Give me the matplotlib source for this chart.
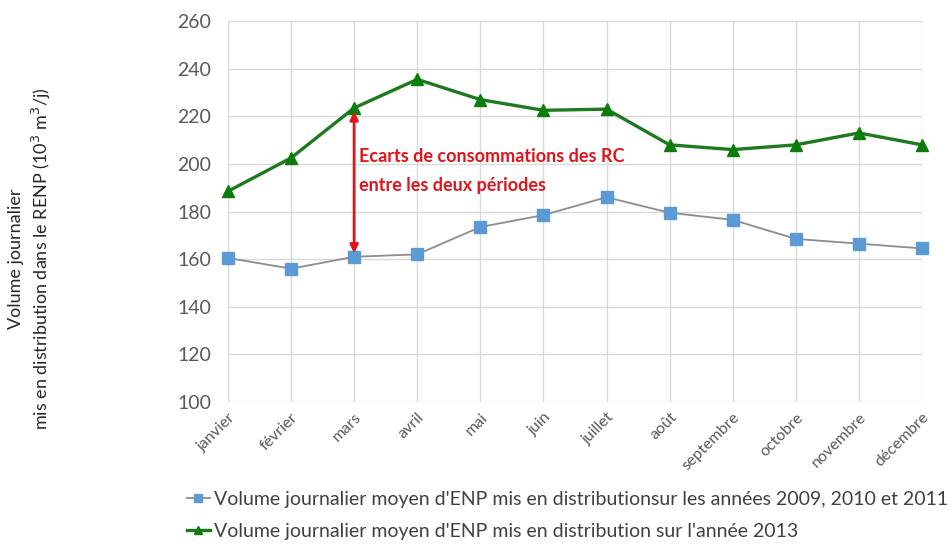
import matplotlib
matplotlib.use("Agg")
import matplotlib.pyplot as plt

mois = ['janvier', 'février', 'mars', 'avril', 'mai', 'juin', 'juillet',
        'août', 'septembre', 'octobre', 'novembre', 'décembre']
vol_2009_2011 = [160.5, 156, 161, 162, 173.5, 178.5, 186, 179.5, 176.5, 168.5, 166.5, 164.5]
vol_2013 = [188.5, 202.5, 223.5, 235.5, 227, 222.5, 223, 208, 206, 208, 213, 208]
y_ticks = [100, 120, 140, 160, 180, 200, 220, 240, 260]

label_old = "Volume journalier moyen d'ENP mis en distributionsur les années 2009, 2010 et 2011"
label_new = "Volume journalier moyen d'ENP mis en distribution sur l'année 2013"
note = "Ecarts de consommations des RC\nentre les deux périodes"
i_ecart = 2  # mars

plt.rcParams['font.family'] = ['Lato', 'DejaVu Sans']

fig = plt.figure(figsize=(9.51, 5.46), dpi=100)
ax = fig.add_axes([0.2397, 0.2637, 0.7298, 0.6978])

x = list(range(len(mois)))
ax.plot(x, vol_2009_2011, color='#8c8c8c', linewidth=1.3, marker='s', markersize=9,
        markerfacecolor='#5b9bd5', markeredgecolor='#5b9bd5', label=label_old,
        zorder=3, clip_on=False)
ax.plot(x, vol_2013, color='#1f7a1f', linewidth=2.4, marker='^', markersize=9,
        markerfacecolor='#0a7d0a', markeredgecolor='#0a7d0a', label=label_new,
        zorder=3, clip_on=False)

# double arrow between the two periods
ax.annotate('', xy=(i_ecart, vol_2009_2011[i_ecart] + 1.5),
            xytext=(i_ecart, vol_2013[i_ecart] - 1.5),
            arrowprops=dict(arrowstyle='<|-|>', color='#e0141b', lw=2,
                            mutation_scale=12, shrinkA=0, shrinkB=0), zorder=4)
ax.text(i_ecart + 0.08, 197, note, color='#e0141b', fontsize=13, fontweight='bold',
        va='center', ha='left', linespacing=1.85)

ax.set_xlim(0, len(mois) - 1)
ax.set_ylim(100, 260)
ax.set_yticks(y_ticks)
ax.set_xticks(x)
ax.set_xticklabels(mois, rotation=45, ha='right', rotation_mode='anchor',
                   fontsize=11.5, color='#595959')
ax.tick_params(axis='y', labelsize=14, colors='#595959', length=0, pad=12)
ax.tick_params(axis='x', length=0, pad=6)
ax.grid(True, color='#d9d9d9', linewidth=1)
for s in ax.spines.values():
    s.set_visible(False)
ax.set_axisbelow(True)

fig.text(0.032, 0.526, "Volume journalier\nmis en distribution dans le RENP (10$^3$ m$^3$/j)",
         rotation=90, ha='center', va='center', fontsize=13, color='#262626',
         linespacing=1.35)

fig.legend(loc='upper left', bbox_to_anchor=(0.188, 0.115), frameon=False,
           fontsize=14, labelcolor='#404040', handlelength=1.2, handletextpad=0.2,
           labelspacing=0.75, markerscale=0.7, borderaxespad=0)

fig.savefig('out.png', dpi=100)
